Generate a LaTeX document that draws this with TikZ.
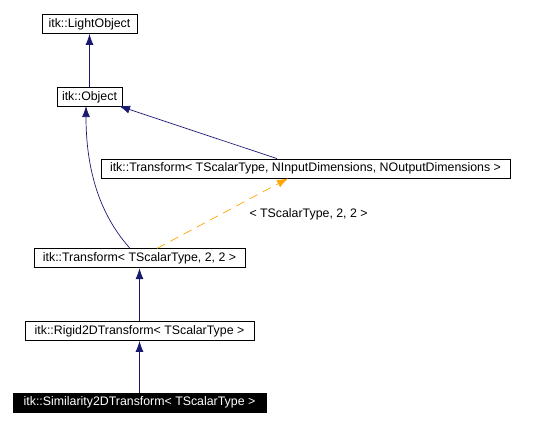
\documentclass[tikz,border=0pt]{standalone}
\usepackage{fontspec}
\setmainfont{Liberation Sans}
\usetikzlibrary{arrows.meta}
\definecolor{navy}{RGB}{25,25,112}
\definecolor{orng}{RGB}{255,165,0}
\begin{document}
\begin{tikzpicture}[x=1bp,y=-1bp,
  lbl/.style={font=\fontsize{12.4}{14}\selectfont},
  cls/.style={lbl,draw=black,line width=0.8bp,inner sep=0pt,minimum height=19bp,anchor=center},
  inh/.style={draw=navy,line width=0.7bp,-{Latex[length=11bp,width=8bp]}},
  tmpl/.style={draw=orng,line width=0.7bp,dash pattern=on 9bp off 6bp,-{Latex[length=11bp,width=8bp]}}]
\useasboundingbox (0,0) rectangle (542,427);
\node[cls,minimum width=95bp] (lo) at (89.5,24) {itk::LightObject};
\node[cls,minimum width=65bp] (ob) at (89.5,97) {itk::Object};
\node[cls,minimum width=409bp] (tg) at (305.5,168.5) {itk::Transform< TScalarType, NInputDimensions, NOutputDimensions >};
\node[cls,minimum width=211bp] (t2) at (139.5,258.3) {itk::Transform< TScalarType, 2, 2 >};
\node[cls,minimum width=229bp] (rg) at (139.5,331) {itk::Rigid2DTransform< TScalarType >};
\node[cls,minimum width=253bp,fill=black,text=white] (sm) at (139.5,402.7) {itk::Similarity2DTransform< TScalarType >};
\coordinate (obse) at (119,106);
\draw[inh] (tg.north -| 277,0) -- (obse);
\draw[inh] (ob.north) -- (lo.south);
\draw[inh] (t2.north -| 130,0) .. controls (112,228) and (86,190) .. (86,106);
\draw[tmpl] (t2.north -| 157,0) -- (tg.south -| 288,0);
\node[lbl,anchor=west] (lab) at (246,214) {< TScalarType, 2, 2 >};
\draw[inh] (rg.north) -- (t2.south);
\draw[inh] (sm.north) -- (rg.south);
\end{tikzpicture}
\end{document}
